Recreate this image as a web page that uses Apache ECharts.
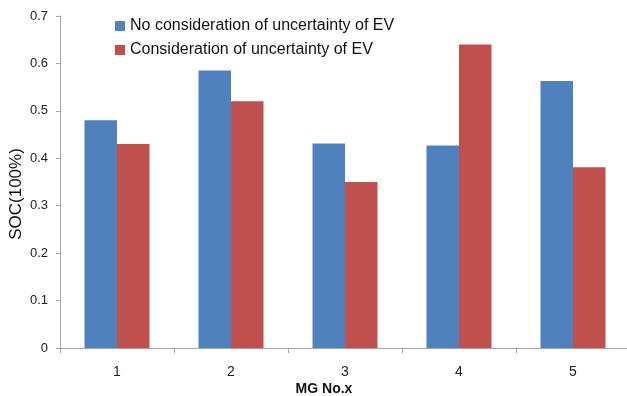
<!DOCTYPE html>
<html><head><meta charset="utf-8">
<script src="https://cdn.jsdelivr.net/npm/echarts@6/dist/echarts.min.js"></script>
<style>html,body{margin:0;padding:0;background:#fff}#c{width:627px;height:396px}</style>
</head><body><div id="c"></div>
<script>
const categories = ['1', '2', '3', '4', '5'];
const noUncertainty = [0.48, 0.585, 0.431, 0.427, 0.563];
const withUncertainty = [0.43, 0.52, 0.35, 0.64, 0.381];
const yTicks = [0, 0.1, 0.2, 0.3, 0.4, 0.5, 0.6, 0.7];
const seriesNames = ['No consideration of uncertainty of EV', 'Consideration of uncertainty of EV'];

const font = 'Liberation Sans';
const chart = echarts.init(document.getElementById('c'), null, {renderer: 'canvas'});
chart.setOption({
  animation: false,
  textStyle: {fontFamily: font},
  grid: {left: 60, top: 16, width: 570, height: 332, containLabel: false, outerBoundsMode: 'none'},
  legend: {
    orient: 'vertical', left: 110, top: 13, itemWidth: 10, itemHeight: 10, itemGap: 8,
    icon: 'rect',
    textStyle: {fontFamily: font, fontSize: 16, color: '#111'},
    data: seriesNames
  },
  xAxis: {
    type: 'category', data: categories,
    axisLine: {lineStyle: {color: '#a6a6a6', width: 1}},
    axisTick: {show: true, length: 5, lineStyle: {color: '#a6a6a6'}},
    axisLabel: {fontSize: 14, color: '#222', margin: 17},
    name: 'MG No.x', nameLocation: 'middle', nameGap: 34, nameMoveOverlap: false,
    nameTextStyle: {fontSize: 14, fontWeight: 'bold', color: '#111', padding: [0, 42, 0, 0]}
  },
  yAxis: {
    type: 'value', min: 0, max: 0.7, interval: 0.1,
    axisLine: {show: true, lineStyle: {color: '#a6a6a6'}},
    axisTick: {show: true, length: 4, lineStyle: {color: '#a6a6a6'}},
    splitLine: {show: false},
    axisLabel: {fontSize: 13, color: '#222', margin: 12,
      formatter: v => { const t = yTicks.find(x => Math.abs(x - v) < 1e-9); return String(t !== undefined ? t : v); }},
    name: 'SOC(100%)', nameLocation: 'middle', nameGap: 35, nameMoveOverlap: false,
    nameTextStyle: {fontSize: 17, color: '#111', padding: [0, 24, 0, 0]}
  },
  series: [
    {name: seriesNames[0], type: 'bar', data: noUncertainty, barGap: '0%', barCategoryGap: '43%',
     itemStyle: {color: '#4F81BD'}},
    {name: seriesNames[1], type: 'bar', data: withUncertainty, barGap: '0%', barCategoryGap: '43%',
     itemStyle: {color: '#C0504D'}}
  ]
});
</script></body></html>
